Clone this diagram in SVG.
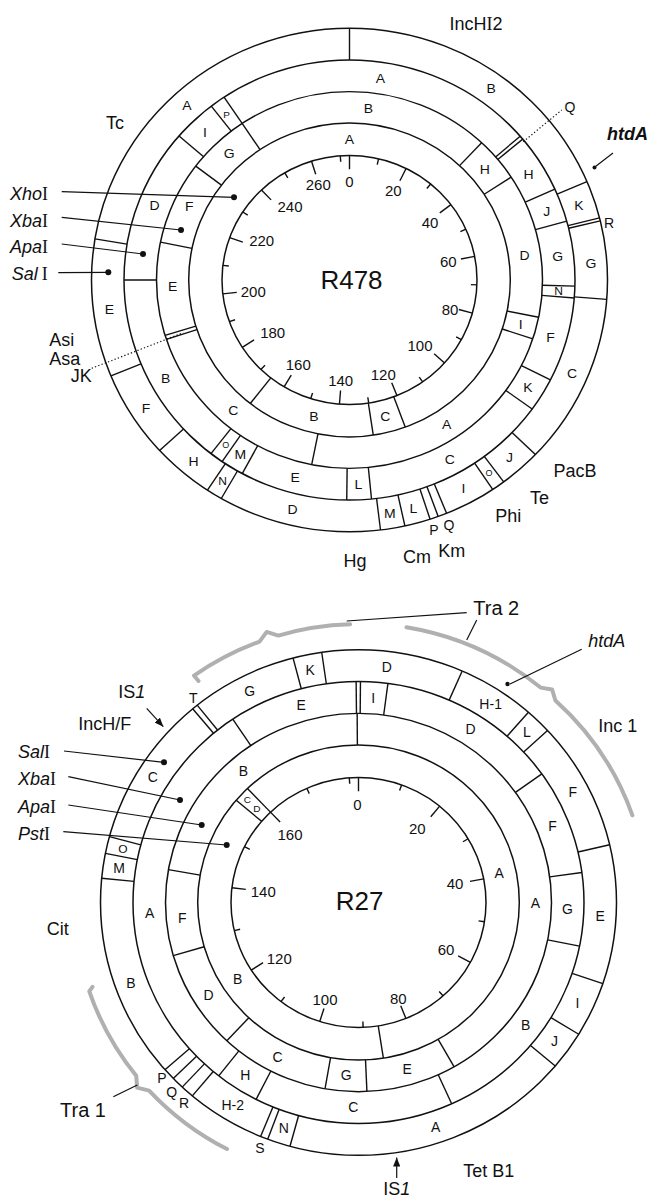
<svg xmlns="http://www.w3.org/2000/svg" xmlns:xlink="http://www.w3.org/1999/xlink" width="649" height="1199" viewBox="0 0 649 1199">
<style>
.ring{fill:none;stroke:#111;stroke-width:1.5}
.dv{stroke:#111;stroke-width:1.4}
.fl{font-family:"Liberation Sans",Arial,sans-serif;font-size:14px;text-anchor:middle;fill:#111}
.sm{font-size:10px}
.xs{font-size:9px}
.md{font-size:12px}
.num{font-family:"Liberation Sans",Arial,sans-serif;font-size:15px;text-anchor:middle;fill:#111}
.lab{font-family:"Liberation Sans",Arial,sans-serif;font-size:18px;fill:#111}
.big{font-size:20px}
.ttl{font-family:"Liberation Sans",Arial,sans-serif;font-size:26px;text-anchor:middle;fill:#111}
.it{font-style:italic}
.ser{font-family:"Liberation Serif","Times New Roman",serif;font-style:normal}
.ptr{stroke:#111;stroke-width:1.2;fill:none}
.dot{fill:#111}
.dotted{stroke:#111;stroke-width:1.2;stroke-dasharray:1.3 2.2;fill:none}
.gray{fill:none;stroke:#b0b0b0;stroke-width:4;stroke-linecap:round;stroke-linejoin:round}
.mid{text-anchor:middle}
</style>
<defs>
<line id="b1" x1="0" y1="-258" x2="0" y2="-225.5"/>
<line id="b2" x1="0" y1="-225.5" x2="0" y2="-193"/>
<line id="b3" x1="0" y1="-193" x2="0" y2="-160.8"/>
<line id="b4" x1="0" y1="-160.8" x2="0" y2="-127.5"/>
<line id="tL" x1="0" y1="-127.5" x2="0" y2="-113.5"/>
<line id="tS" x1="0" y1="-127.5" x2="0" y2="-121.5"/>
<marker id="ah" viewBox="0 0 10 8" refX="10" refY="4" markerWidth="9" markerHeight="7.2" markerUnits="userSpaceOnUse" orient="auto"><path d="M0,0 L10,4 L0,8 z" fill="#111"/></marker>
</defs>

<!-- ============ R478 ============ -->
<g id="r478" transform="translate(349.5,280) scale(1,0.976)">
  <g id="r478-rings" class="ring">
    <circle r="258"/><circle r="225.5"/><circle r="193"/><circle r="160.8"/><circle r="127.5"/>
  </g>
  <g id="r478-dividers" class="dv">
    <use href="#b1" transform="rotate(0)"/><use href="#b1" transform="rotate(67)"/><use href="#b1" transform="rotate(75.7)"/><use href="#b1" transform="rotate(76.4)"/><use href="#b1" transform="rotate(94.4)"/><use href="#b1" transform="rotate(133.9)"/><use href="#b1" transform="rotate(143.3)"/><use href="#b1" transform="rotate(146.3)"/><use href="#b1" transform="rotate(157.9)"/><use href="#b1" transform="rotate(159.9)"/><use href="#b1" transform="rotate(161.8)"/><use href="#b1" transform="rotate(167.6)"/><use href="#b1" transform="rotate(173.1)"/><use href="#b1" transform="rotate(209.8)"/><use href="#b1" transform="rotate(213.4)"/><use href="#b1" transform="rotate(227.4)"/><use href="#b1" transform="rotate(247.6)"/><use href="#b1" transform="rotate(279.4)"/>
    <use href="#b2" transform="rotate(49.2)"/><use href="#b2" transform="rotate(50.2)"/><use href="#b2" transform="rotate(65.6)"/><use href="#b2" transform="rotate(74.5)"/><use href="#b2" transform="rotate(91.6)"/><use href="#b2" transform="rotate(94.7)"/><use href="#b2" transform="rotate(117)"/><use href="#b2" transform="rotate(125.9)"/><use href="#b2" transform="rotate(174.4)"/><use href="#b2" transform="rotate(180.7)"/><use href="#b2" transform="rotate(208.4)"/><use href="#b2" transform="rotate(214.4)"/><use href="#b2" transform="rotate(217.9)"/><use href="#b2" transform="rotate(270)"/><use href="#b2" transform="rotate(310.9)"/><use href="#b2" transform="rotate(322.2)"/><use href="#b2" transform="rotate(326.2)"/>
    <use href="#b3" transform="rotate(43.2)"/><use href="#b3" transform="rotate(56.9)"/><use href="#b3" transform="rotate(101.4)"/><use href="#b3" transform="rotate(108.2)"/><use href="#b3" transform="rotate(191.3)"/><use href="#b3" transform="rotate(251.6)"/><use href="#b3" transform="rotate(252.9)"/><use href="#b3" transform="rotate(281.6)"/><use href="#b3" transform="rotate(307.2)"/><use href="#b3" transform="rotate(326.2)"/>
    <use href="#b4" transform="rotate(159.7)"/><use href="#b4" transform="rotate(171.5)"/><use href="#b4" transform="rotate(218.1)"/>
  </g>
  <g id="r478-ticks" class="dv">
    <use href="#tL" transform="rotate(0)"/><use href="#tS" transform="rotate(13.18)"/><use href="#tL" transform="rotate(26.36)"/><use href="#tS" transform="rotate(39.54)"/><use href="#tL" transform="rotate(52.72)"/><use href="#tS" transform="rotate(65.9)"/><use href="#tL" transform="rotate(79.08)"/><use href="#tS" transform="rotate(92.26)"/><use href="#tL" transform="rotate(105.44)"/><use href="#tS" transform="rotate(118.62)"/><use href="#tL" transform="rotate(131.8)"/><use href="#tS" transform="rotate(144.98)"/><use href="#tL" transform="rotate(158.16)"/><use href="#tS" transform="rotate(171.34)"/><use href="#tL" transform="rotate(184.52)"/><use href="#tS" transform="rotate(197.7)"/><use href="#tL" transform="rotate(210.88)"/><use href="#tS" transform="rotate(224.06)"/><use href="#tL" transform="rotate(237.24)"/><use href="#tS" transform="rotate(250.42)"/><use href="#tL" transform="rotate(263.6)"/><use href="#tS" transform="rotate(276.78)"/><use href="#tL" transform="rotate(289.96)"/><use href="#tS" transform="rotate(303.14)"/><use href="#tL" transform="rotate(316.32)"/><use href="#tS" transform="rotate(329.5)"/><use href="#tL" transform="rotate(342.68)"/><use href="#tS" transform="rotate(355.86)"/>
  </g>
  <g id="r478-fragments" class="fl">
    <text transform="rotate(317.8) translate(0,-242) rotate(-317.8)" dy="5">A</text>
    <text transform="rotate(35.8) translate(0,-242) rotate(-35.8)" dy="5">B</text>
    <text transform="rotate(71.4) translate(0,-242) rotate(-71.4)" dy="5">K</text>
    <text transform="rotate(85.8) translate(0,-242) rotate(-85.8)" dy="5">G</text>
    <text transform="rotate(113.1) translate(0,-242) rotate(-113.1)" dy="5">C</text>
    <text transform="rotate(138.6) translate(0,-242) rotate(-138.6)" dy="5">J</text>
    <text class="xs" transform="rotate(144.8) translate(0,-242) rotate(-144.8)" dy="3">O</text>
    <text transform="rotate(151.9) translate(0,-242) rotate(-151.9)" dy="5">I</text>
    <text transform="rotate(164.7) translate(0,-242) rotate(-164.7)" dy="5">L</text>
    <text transform="rotate(170.4) translate(0,-242) rotate(-170.4)" dy="5">M</text>
    <text transform="rotate(193.6) translate(0,-242) rotate(-193.6)" dy="5">D</text>
    <text class="md" transform="rotate(211.6) translate(0,-242) rotate(-211.6)" dy="4">N</text>
    <text transform="rotate(220.1) translate(0,-242) rotate(-220.1)" dy="5">H</text>
    <text transform="rotate(237.2) translate(0,-242) rotate(-237.2)" dy="5">F</text>
    <text transform="rotate(262.8) translate(0,-242) rotate(-262.8)" dy="5">E</text>

    <text transform="rotate(8.5) translate(0,-209.5) rotate(-8.5)" dy="5">A</text>
    <text transform="rotate(58.7) translate(0,-209.5) rotate(-58.7)" dy="5">H</text>
    <text transform="rotate(70.3) translate(0,-209.5) rotate(-70.3)" dy="5">J</text>
    <text transform="rotate(83.4) translate(0,-209.5) rotate(-83.4)" dy="5">G</text>
    <text class="md" transform="rotate(93.2) translate(0,-209.5) rotate(-93.2)" dy="4">N</text>
    <text transform="rotate(106.3) translate(0,-209.5) rotate(-106.3)" dy="5">F</text>
    <text transform="rotate(121.6) translate(0,-209.5) rotate(-121.6)" dy="5">K</text>
    <text transform="rotate(151.4) translate(0,-209.5) rotate(-151.4)" dy="5">C</text>
    <text transform="rotate(177.6) translate(0,-209.5) rotate(-177.6)" dy="5">L</text>
    <text transform="rotate(195) translate(0,-209.5) rotate(-195)" dy="5">E</text>
    <text transform="rotate(211.4) translate(0,-209.5) rotate(-211.4)" dy="5">M</text>
    <text class="xs" transform="rotate(216.2) translate(0,-209.5) rotate(-216.2)" dy="3">O</text>
    <text transform="rotate(241.4) translate(0,-209.5) rotate(-241.4)" dy="5">B</text>
    <text transform="rotate(291.4) translate(0,-209.5) rotate(-291.4)" dy="5">D</text>
    <text transform="rotate(316.4) translate(0,-209.5) rotate(-316.4)" dy="5">I</text>
    <text class="sm" transform="rotate(324.1) translate(0,-209.5) rotate(-324.1)" dy="3.5">P</text>

    <text transform="rotate(6.1) translate(0,-177) rotate(-6.1)" dy="5">B</text>
    <text transform="rotate(49.9) translate(0,-177) rotate(-49.9)" dy="5">H</text>
    <text transform="rotate(81.6) translate(0,-177) rotate(-81.6)" dy="5">D</text>
    <text transform="rotate(104.8) translate(0,-177) rotate(-104.8)" dy="5">I</text>
    <text transform="rotate(146.7) translate(0,-177) rotate(-146.7)" dy="5">A</text>
    <text transform="rotate(221) translate(0,-177) rotate(-221)" dy="5">C</text>
    <text transform="rotate(268) translate(0,-177) rotate(-268)" dy="5">E</text>
    <text transform="rotate(295.2) translate(0,-177) rotate(-295.2)" dy="5">F</text>
    <text transform="rotate(317.2) translate(0,-177) rotate(-317.2)" dy="5">G</text>

    <text transform="rotate(0) translate(0,-144) rotate(0)" dy="5">A</text>
    <text transform="rotate(165.6) translate(0,-144) rotate(-165.6)" dy="5">C</text>
    <text transform="rotate(194.3) translate(0,-144) rotate(-194.3)" dy="5">B</text>
  </g>
</g>

<g id="r478-scale-labels" class="num">
  <text x="349.3" y="187">0</text><text x="393.3" y="196">20</text><text x="430" y="228">40</text><text x="448.3" y="267">60</text><text x="450" y="314.6">80</text><text x="420" y="351.3">100</text><text x="383.3" y="380.3">120</text><text x="340.7" y="386">140</text><text x="298.3" y="370.3">160</text><text x="272.7" y="338">180</text><text x="253.3" y="297">200</text><text x="261.7" y="246">220</text><text x="290" y="212">240</text><text x="318.3" y="190.3">260</text>
</g>
<text id="r478-title" class="ttl" x="351.5" y="289.3">R478</text>

<g id="r478-connectors">
  <line class="ptr" x1="61.7" y1="191.7" x2="234" y2="197.3"/><circle class="dot" cx="234" cy="197.3" r="3"/>
  <line class="ptr" x1="61.7" y1="217.3" x2="181" y2="230"/><circle class="dot" cx="181" cy="230" r="3"/>
  <line class="ptr" x1="61.7" y1="244" x2="143" y2="254"/><circle class="dot" cx="143" cy="254" r="3"/>
  <line class="ptr" x1="58.3" y1="272.7" x2="108.3" y2="272.3"/><circle class="dot" cx="108.3" cy="272.3" r="3"/>
  <line class="dotted" x1="91.7" y1="368.3" x2="183.3" y2="332.7"/>
  <line class="dotted" x1="523.3" y1="141.7" x2="561.7" y2="110"/>
  <path class="ptr" d="M613,153 L595.5,166.5"/><circle class="dot" cx="594.5" cy="167.5" r="2"/>
</g>

<g id="r478-labels">
  <text class="lab mid" x="476" y="30">IncH<tspan class="ser">I</tspan>2</text>
  <text class="lab mid" x="115" y="128.5" font-size="19">Tc</text>
  <text class="lab it" x="607" y="140" font-size="17" font-weight="bold">htdA</text>
  <text class="fl" x="570" y="111.7">Q</text>
  <text class="fl" x="609" y="228.3">R</text>
  <text class="lab mid" x="575" y="477">PacB</text>
  <text class="lab mid" x="539.5" y="503.5">Te</text>
  <text class="lab mid" x="508.3" y="521.7">Phi</text>
  <text class="lab mid" x="451.7" y="557.3">Km</text>
  <text class="lab mid" x="417" y="563.3">Cm</text>
  <text class="lab mid" x="355" y="566.7">Hg</text>
  <text class="fl" x="434" y="535" font-size="13">P</text>
  <text class="fl" x="449" y="530" font-size="13">Q</text>
  <text class="lab" x="49.3" y="346" font-size="16">Asi</text>
  <text class="lab" x="49.3" y="365" font-size="16">Asa</text>
  <text class="lab" x="70.7" y="382.3" font-size="13">JK</text>
  <text class="lab it" x="10" y="199.8">Xho<tspan class="ser">I</tspan></text>
  <text class="lab it" x="10" y="226.5">Xba<tspan class="ser">I</tspan></text>
  <text class="lab it" x="10" y="252.5">Apa<tspan class="ser">I</tspan></text>
  <text class="lab it" x="11.7" y="280">Sal<tspan class="ser" dx="4">I</tspan></text>
</g>

<!-- ============ R27 ============ -->
<g id="r27" transform="translate(358.5,902.5) scale(1,0.98)">
  <g id="r27-brackets" class="gray">
    <path d="M-160,-226 L-164.5,-231.5 A284 284 0 0 1 -99,-266.2 L-91.8,-276.1 L-80.2,-272.4 A284 284 0 0 1 -8.4,-283.9"/>
    <path d="M48,-280.9 A285 285 0 0 1 182.1,-219.3 L193.6,-217.3 L196.9,-206.1 A287 287 0 0 1 273.9,-89"/>
    <path d="M-266,86 L-269.2,90.6 A284 284 0 0 0 -222.3,176.8 L-221.3,189 L-209.4,191.9 A284 284 0 0 0 -131.5,251.6"/>
  </g>
  <g id="r27-rings" class="ring">
    <circle r="258"/><circle r="225.5"/><circle r="193"/><circle r="160.8"/><circle r="127.5"/>
  </g>
  <g id="r27-dividers" class="dv">
    <use href="#b1" transform="rotate(320)"/><use href="#b1" transform="rotate(321.3)"/><use href="#b1" transform="rotate(345.3)"/><use href="#b1" transform="rotate(351.8)"/><use href="#b1" transform="rotate(23.7)"/><use href="#b1" transform="rotate(41.2)"/><use href="#b1" transform="rotate(47.1)"/><use href="#b1" transform="rotate(76.8)"/><use href="#b1" transform="rotate(108.7)"/><use href="#b1" transform="rotate(121.4)"/><use href="#b1" transform="rotate(130.3)"/><use href="#b1" transform="rotate(195.4)"/><use href="#b1" transform="rotate(200.6)"/><use href="#b1" transform="rotate(202.3)"/><use href="#b1" transform="rotate(220.1)"/><use href="#b1" transform="rotate(223.1)"/><use href="#b1" transform="rotate(225.9)"/><use href="#b1" transform="rotate(228.6)"/><use href="#b1" transform="rotate(275.5)"/><use href="#b1" transform="rotate(281.2)"/><use href="#b1" transform="rotate(285.1)"/>
    <use href="#b2" transform="rotate(326.1)"/><use href="#b2" transform="rotate(359.4)"/><use href="#b2" transform="rotate(0.5)"/><use href="#b2" transform="rotate(7.5)"/><use href="#b2" transform="rotate(54.4)"/><use href="#b2" transform="rotate(82.2)"/><use href="#b2" transform="rotate(101.4)"/><use href="#b2" transform="rotate(155.6)"/><use href="#b2" transform="rotate(207)"/><use href="#b2" transform="rotate(218.3)"/>
    <use href="#b3" transform="rotate(359.6)"/><use href="#b3" transform="rotate(150.3)"/><use href="#b3" transform="rotate(177.5)"/><use href="#b3" transform="rotate(190)"/><use href="#b3" transform="rotate(223)"/><use href="#b3" transform="rotate(253.7)"/><use href="#b3" transform="rotate(280)"/>
    <use href="#b4" transform="rotate(171.1)"/><use href="#b4" transform="rotate(310.5)"/><use href="#b4" transform="rotate(316.32)"/>
  </g>
  <g id="r27-ticks" class="dv">
    <use href="#tL" transform="rotate(0)"/><use href="#tS" transform="rotate(19.77)"/><use href="#tL" transform="rotate(39.54)"/><use href="#tS" transform="rotate(59.31)"/><use href="#tL" transform="rotate(79.08)"/><use href="#tS" transform="rotate(98.85)"/><use href="#tL" transform="rotate(118.62)"/><use href="#tS" transform="rotate(138.39)"/><use href="#tL" transform="rotate(158.16)"/><use href="#tS" transform="rotate(177.93)"/><use href="#tL" transform="rotate(197.7)"/><use href="#tS" transform="rotate(217.47)"/><use href="#tL" transform="rotate(237.24)"/><use href="#tS" transform="rotate(257.01)"/><use href="#tL" transform="rotate(276.78)"/><use href="#tS" transform="rotate(296.55)"/><use href="#tL" transform="rotate(316.32)"/><use href="#tS" transform="rotate(336.09)"/><use href="#tS" transform="rotate(355.86)"/>
  </g>
  <g id="r27-fragments" class="fl">
    <text transform="rotate(333.3) translate(0,-242) rotate(-333.3)" dy="5">G</text>
    <text transform="rotate(348.5) translate(0,-242) rotate(-348.5)" dy="5">K</text>
    <text transform="rotate(6.7) translate(0,-242) rotate(-6.7)" dy="5">D</text>
    <text transform="rotate(33.1) translate(0,-242) rotate(-33.1)" dy="5">H-1</text>
    <text transform="rotate(44.1) translate(0,-242) rotate(-44.1)" dy="5">L</text>
    <text transform="rotate(62.3) translate(0,-242) rotate(-62.3)" dy="5">F</text>
    <text transform="rotate(93.3) translate(0,-242) rotate(-93.3)" dy="5">E</text>
    <text transform="rotate(115.2) translate(0,-242) rotate(-115.2)" dy="5">I</text>
    <text transform="rotate(125.9) translate(0,-242) rotate(-125.9)" dy="5">J</text>
    <text transform="rotate(161.4) translate(0,-242) rotate(-161.4)" dy="5">A</text>
    <text transform="rotate(198) translate(0,-242) rotate(-198)" dy="5">N</text>
    <text transform="rotate(211.3) translate(0,-242) rotate(-211.3)" dy="5">H-2</text>
    <text transform="rotate(250.1) translate(0,-242) rotate(-250.1)" dy="5">B</text>
    <text transform="rotate(278.3) translate(0,-242) rotate(-278.3)" dy="5">M</text>
    <text class="md" transform="rotate(283.1) translate(0,-242) rotate(-283.1)" dy="4">O</text>
    <text transform="rotate(301.8) translate(0,-242) rotate(-301.8)" dy="5">C</text>

    <text transform="rotate(344.1) translate(0,-209) rotate(-344.1)" dy="5">E</text>
    <text transform="rotate(4) translate(0,-209) rotate(-4)" dy="5">I</text>
    <text transform="rotate(32.4) translate(0,-209) rotate(-32.4)" dy="5">D</text>
    <text transform="rotate(68.2) translate(0,-209) rotate(-68.2)" dy="5">F</text>
    <text transform="rotate(91.8) translate(0,-209) rotate(-91.8)" dy="5">G</text>
    <text transform="rotate(126.9) translate(0,-209) rotate(-126.9)" dy="5">B</text>
    <text transform="rotate(181.4) translate(0,-209) rotate(-181.4)" dy="5">C</text>
    <text transform="rotate(212.8) translate(0,-209) rotate(-212.8)" dy="5">H</text>
    <text transform="rotate(267) translate(0,-209) rotate(-267)" dy="5">A</text>

    <text transform="rotate(319.4) translate(0,-177) rotate(-319.4)" dy="5">B</text>
    <text transform="rotate(90.3) translate(0,-177) rotate(-90.3)" dy="5">A</text>
    <text transform="rotate(164) translate(0,-177) rotate(-164)" dy="5">E</text>
    <text transform="rotate(184) translate(0,-177) rotate(-184)" dy="5">G</text>
    <text transform="rotate(207.2) translate(0,-177) rotate(-207.2)" dy="5">C</text>
    <text transform="rotate(237.9) translate(0,-177) rotate(-237.9)" dy="5">D</text>
    <text transform="rotate(265) translate(0,-177) rotate(-265)" dy="5">F</text>

    <text transform="rotate(77.8) translate(0,-144) rotate(-77.8)" dy="5">A</text>
    <text transform="rotate(237) translate(0,-144) rotate(-237)" dy="5">B</text>
    <text class="sm" transform="rotate(313.4) translate(0,-153) rotate(-313.4)" dy="3.5">C</text>
    <text class="sm" transform="rotate(313.4) translate(0,-140) rotate(-313.4)" dy="3.5">D</text>
  </g>
</g>

<g id="r27-scale-labels" class="num">
  <text x="357.3" y="810.3">0</text><text x="417.3" y="833.6">20</text><text x="455" y="888.6">40</text><text x="446" y="954.6">60</text><text x="398.3" y="1003.6">80</text><text x="325" y="1005.3">100</text><text x="279.3" y="963.6">120</text><text x="263.3" y="897">140</text><text x="290" y="840.3">160</text>
</g>
<text id="r27-title" class="ttl" x="359.7" y="910">R27</text>

<g id="r27-connectors">
  <line class="ptr" x1="64" y1="751" x2="164" y2="762.3"/><circle class="dot" cx="164" cy="762.3" r="3"/>
  <line class="ptr" x1="68.3" y1="776.7" x2="180" y2="800"/><circle class="dot" cx="180" cy="800" r="3"/>
  <line class="ptr" x1="68.3" y1="805" x2="201.7" y2="825"/><circle class="dot" cx="201.7" cy="825" r="3"/>
  <line class="ptr" x1="63.3" y1="831.7" x2="226.7" y2="845"/><circle class="dot" cx="226.7" cy="845" r="3"/>
  <line class="ptr" x1="466.7" y1="612.7" x2="346.7" y2="621"/>
  <line class="ptr" x1="476.7" y1="620" x2="466.7" y2="640"/>
  <line class="ptr" x1="113.3" y1="1096.7" x2="137.3" y2="1085"/>
  <line class="ptr" x1="581.7" y1="649.3" x2="510" y2="684"/><circle class="dot" cx="507.5" cy="684" r="2.2"/>
  <line class="ptr" x1="146.7" y1="708.3" x2="163.3" y2="726.7" stroke-width="1.5" marker-end="url(#ah)"/>
  <line class="ptr" x1="396.7" y1="1178" x2="396.7" y2="1157.5" stroke-width="1.5" marker-end="url(#ah)"/>
</g>

<g id="r27-labels">
  <text class="lab big" x="473.3" y="615">Tra 2</text>
  <text class="lab it" x="588.3" y="647.3">htdA</text>
  <text class="lab" x="598.3" y="731.7">Inc 1</text>
  <text class="lab" x="118.3" y="698.3" font-size="17">IS<tspan class="it">1</tspan></text>
  <text class="lab" x="78.3" y="730">IncH/F</text>
  <text class="fl" x="193.3" y="703.3" font-size="13">T</text>
  <text class="lab it" x="18" y="757.5">Sal<tspan class="ser">I</tspan></text>
  <text class="lab it" x="18" y="784.5">Xba<tspan class="ser">I</tspan></text>
  <text class="lab it" x="18" y="812.5">Apa<tspan class="ser">I</tspan></text>
  <text class="lab it" x="18" y="840">Pst<tspan class="ser">I</tspan></text>
  <text class="lab" x="46.7" y="935">Cit</text>
  <text class="lab big" x="60" y="1116.7">Tra 1</text>
  <text class="fl" x="162" y="1083.3" font-size="13">P</text>
  <text class="fl" x="171.7" y="1097" font-size="13">Q</text>
  <text class="fl" x="184" y="1108.3" font-size="13">R</text>
  <text class="fl" x="260" y="1153.3" font-size="13">S</text>
  <text class="lab" x="463.3" y="1176.7">Tet B1</text>
  <text class="lab" x="383.3" y="1195" font-size="17">IS<tspan class="it">1</tspan></text>
</g>
</svg>
